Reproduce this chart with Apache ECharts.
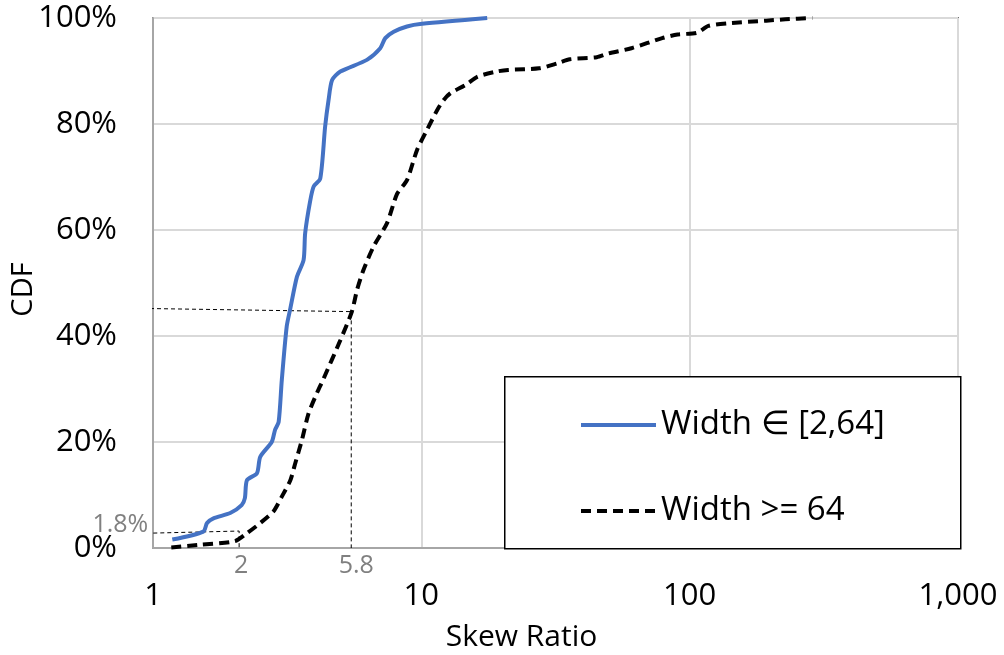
<!DOCTYPE html>
<html>
<head>
<meta charset="utf-8">
<script src="https://cdn.jsdelivr.net/npm/echarts@6/dist/echarts.min.js"></script>
<style>
html,body{margin:0;padding:0;background:#fff;}
#chart{width:1004px;height:655px;}
</style>
</head>
<body>
<div id="chart"></div>
<script>
// Series: Width in [2,64]
const blueName = 'Width \u2208 [2,64]';
const blueX = [1.18,1.54,1.59,1.68,1.94,2.14,2.2,2.24,2.44,2.51,2.77,2.85,2.94,3.02,3.15,3.25,3.44,3.64,3.69,3.85,3.97,4.2,4.38,4.51,4.65,4.99,6.27,7.03,7.34,7.89,8.84,10.06,17.6];
const blueY = [1.6,3.1,4.7,5.6,6.6,8.1,9.4,12.8,14.1,17.2,20.0,22.3,23.8,31.7,41.8,45.2,51.2,54.3,59.4,65.4,68.2,69.7,79.5,84.5,88.3,89.9,92.1,94.3,96.2,97.4,98.4,98.9,100];

// Series: Width >= 64
const blackName = 'Width >= 64';
const blackX = [1.17,1.5,2.02,2.24,2.51,2.81,3.02,3.25,3.39,3.59,3.8,4.08,4.3,4.99,5.51,5.76,6.09,6.64,7.45,8.12,8.84,9.64,10.5,11.45,12.1,12.83,14.65,16.17,19.08,21.06,27.44,32.37,35.73,45.06,49.73,60.65,78.98,90.14,106.4,117.4,138.5,192.8,227.3,286.5];
const blackY = [0.1,0.6,1.3,2.8,4.7,6.9,9.7,12.8,16.0,20.4,25.4,29.2,31.7,39.2,44.6,48.7,52.5,56.9,61.3,66.8,69.4,75.1,78.9,82.6,84.5,85.8,87.4,88.9,89.9,90.2,90.5,91.5,92.2,92.6,93.3,94.3,96.2,96.9,97.2,98.5,99.0,99.5,99.75,100];

// Annotation guide lines (x, y) and their text
const guide45X = [0.918, 5.48, 5.48];
const guide45Y = [45.2, 44.6, 0];
const guide45Labels = [null, null, '5.8'];
const guide18X = [0.889, 2.094, 2.094];
const guide18Y = [2.75, 3.2, 0];
const guide18Labels = ['1.8%', null, '2'];

// Axis ticks
const yTicks = [0, 20, 40, 60, 80, 100];
const xTicks = [1, 10, 100, 1000];

const FONT = 'Open Sans';
const zip = (xs, ys) => xs.map((x, i) => [x, ys[i]]);

function guideData(xs, ys, labels) {
  return xs.map((x, i) => {
    const item = { value: [x, ys[i]] };
    const t = labels[i];
    if (t === '1.8%') {
      item.label = { show: true, formatter: t, position: 'top', distance: 0, offset: [-19, 4] };
    } else if (t === '5.8') {
      item.label = { show: true, formatter: t, position: 'bottom', distance: 5, offset: [5, 0] };
    } else if (t) {
      item.label = { show: true, formatter: t, position: 'bottom', distance: 5, offset: [2, 0] };
    }
    return item;
  });
}

const guideStyle = {
  type: 'line',
  clip: false,
  silent: true,
  symbol: 'circle',
  symbolSize: 1,
  itemStyle: { color: 'rgba(0,0,0,0)' },
  lineStyle: { color: '#000', width: 1, type: [4, 3] },
  label: { show: false, color: '#808080', fontFamily: FONT, fontSize: 25 },
  z: 3
};

const chart = echarts.init(document.getElementById('chart'));
chart.setOption({
  animation: false,
  backgroundColor: '#fff',
  grid: {
    left: 153, right: 46, top: 18, bottom: 107,
    outerBoundsMode: 'none', containLabel: false,
    show: true, borderColor: '#000', borderWidth: 1.5, backgroundColor: 'transparent'
  },
  xAxis: {
    type: 'log', logBase: 10, min: xTicks[0], max: xTicks[xTicks.length - 1],
    name: 'Skew Ratio', nameLocation: 'middle', nameGap: 74, nameMoveOverlap: false,
    nameTextStyle: { fontFamily: FONT, fontSize: 30, color: '#000', padding: [0, 68, 0, 0] },
    axisLine: { show: true, lineStyle: { color: '#a6a6a6', width: 2 } },
    axisTick: { show: false },
    axisLabel: {
      fontFamily: FONT, fontSize: 31, color: '#000', margin: 33,
      formatter: v => Number(v).toLocaleString('en-US')
    },
    splitLine: { show: true, lineStyle: { color: '#d9d9d9', width: 2 } },
    minorTick: { show: false }, minorSplitLine: { show: false }
  },
  yAxis: {
    type: 'value', min: yTicks[0], max: yTicks[yTicks.length - 1], interval: 20,
    name: 'CDF', nameLocation: 'middle', nameGap: 115, nameMoveOverlap: false,
    nameTextStyle: { fontFamily: FONT, fontSize: 29, color: '#000', padding: [0, 13, 0, 0] },
    axisLine: { show: true, lineStyle: { color: '#a6a6a6', width: 2 } },
    axisTick: { show: false },
    axisLabel: { fontFamily: FONT, fontSize: 31, color: '#000', margin: 36, formatter: '{value}%' },
    splitLine: { show: true, lineStyle: { color: '#d9d9d9', width: 2 } }
  },
  graphic: [{
    type: 'rect', left: 504, top: 376, z: 10,
    shape: { width: 456, height: 172 },
    style: { fill: '#fff', stroke: '#000', lineWidth: 1.5 }
  }],
  legend: {
    data: [
      { name: blueName, lineStyle: { width: 4 } },
      { name: blackName, lineStyle: { width: 4 } }
    ],
    orient: 'vertical', left: 574, top: 403, z: 20,
    itemWidth: 75, itemHeight: 14, itemGap: 52,
    itemStyle: { opacity: 0 },
    textStyle: { fontFamily: FONT, fontSize: 33, color: '#000', lineHeight: 34, padding: [0, 0, 0, 0] }
  },
  series: [
    {
      name: blueName, type: 'line', data: zip(blueX, blueY),
      symbol: 'none', smooth: 0.25, z: 5,
      lineStyle: { color: '#4472C4', width: 4 },
      itemStyle: { color: '#4472C4' }
    },
    {
      name: blackName, type: 'line', data: zip(blackX, blackY),
      symbol: 'none', smooth: 0.25, z: 4,
      lineStyle: { color: '#000', width: 4, type: [10, 6] },
      itemStyle: { color: '#000' }
    },
    Object.assign({ name: 'guide45', data: guideData(guide45X, guide45Y, guide45Labels) }, guideStyle),
    Object.assign({ name: 'guide18', data: guideData(guide18X, guide18Y, guide18Labels) }, guideStyle)
  ]
});
</script>
</body>
</html>
